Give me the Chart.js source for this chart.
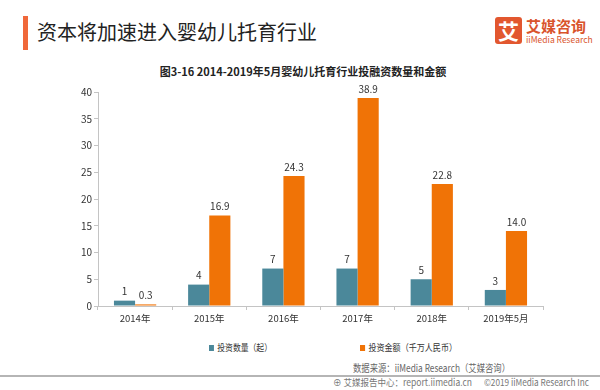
<!DOCTYPE html>
<html>
<head>
<meta charset="utf-8">
<script src="https://cdn.jsdelivr.net/npm/chart.js@4"></script>
<style>
    body { margin: 0; width: 600px; height: 390px; background: #fff; position: relative; overflow: hidden;
           font-family: "Noto Sans CJK SC", "Noto Sans", sans-serif; color: #333; }
    .abs { position: absolute; white-space: nowrap; }
    .fit { transform-origin: 0 50%; }
    #accent { left: 23px; top: 16px; width: 5px; height: 34px; background: #f0683a; }
    #headline { left: 37px; top: 18px; font-size: 20px; line-height: 28px; color: #222; }
    #logoBox { left: 495px; top: 17px; width: 27px; height: 27px; border-radius: 3px; background: #e2572f;
               color: #fff; font-size: 21px; font-weight: bold; line-height: 27px; text-align: center; }
    #logoCn { left: 526px; top: 16px; font-size: 15px; font-weight: bold; color: #d9542c; line-height: 20px; }
    #logoEn { left: 526px; top: 34px; font-size: 8.5px; color: #d9542c; line-height: 11px; }
    #chartTitle { left: 0; width: 606px; top: 63px; text-align: center; font-size: 11px; font-weight: bold; color: #222; }
    #wrap { left: 0; top: 60px; width: 600px; height: 270px; }
    .leg { top: 339px; font-size: 9.5px; line-height: 16px; color: #333; }
    .sw { display: inline-block; width: 6px; height: 6px; margin-right: 4px; vertical-align: 0px; }
    #source { left: 353px; top: 360px; font-size: 10px; color: #666; line-height: 16px; }
    #rule { left: 0; top: 375px; width: 600px; height: 2px; background: #b5b5b5; }
    #foot1 { left: 333px; top: 376px; font-size: 9.5px; color: #777; line-height: 13px; }
    #foot2 { left: 484px; top: 376px; font-size: 9.5px; color: #777; line-height: 13px; }
</style>
</head>
<body>
<div class="abs" id="accent"></div>
<div class="abs" id="headline">资本将加速进入婴幼儿托育行业</div>
<div class="abs" id="logoBox">艾</div>
<div class="abs" id="logoCn">艾媒咨询</div>
<div class="abs" id="logoEn">iiMedia Research</div>
<div class="abs" id="chartTitle">图3-16 2014-2019年5月婴幼儿托育行业投融资数量和金额</div>
<div class="abs" id="wrap"><canvas id="dealChart" width="600" height="270"></canvas></div>
<div class="abs leg fit" data-w="63" style="left:209px"><span class="sw" id="sw0"></span>投资数量（起）</div>
<div class="abs leg fit" data-w="97" style="left:360px"><span class="sw" id="sw1"></span>投资金额（千万人民币）</div>
<div class="abs fit" data-w="157" id="source">数据来源：iiMedia Research（艾媒咨询）</div>
<div class="abs" id="rule"></div>
<div class="abs fit" data-w="139" id="foot1">⊕ 艾媒报告中心：report.iimedia.cn</div>
<div class="abs fit" data-w="105" id="foot2">©2019 iiMedia Research Inc</div>

<script>
// chart data
const years = ['2014年', '2015年', '2016年', '2017年', '2018年', '2019年5月'];
const dealCount = [1, 4, 7, 7, 5, 3];
const dealAmount = [0.3, 16.9, 24.3, 38.9, 22.8, 14.0];
const yTicks = [0, 5, 10, 15, 20, 25, 30, 35, 40];

const countColor = '#4b889a';
const amountColor = '#f07306';
const axisColor = '#c4c4c4';
const fontFamily = '"Noto Sans CJK SC", "Noto Sans", sans-serif';

document.getElementById('sw0').style.background = countColor;
document.getElementById('sw1').style.background = amountColor;

// squeeze the narrow footer / legend texts to their widths
document.querySelectorAll('.fit').forEach(el => {
    const w = el.getBoundingClientRect().width;
    el.style.transform = 'scaleX(' + (Number(el.dataset.w) / w) + ')';
});

// write value labels above every bar
const valueLabels = {
    id: 'valueLabels',
    afterDatasetsDraw(chart) {
        const ctx = chart.ctx;
        ctx.save();
        ctx.font = '10px ' + fontFamily;
        ctx.fillStyle = '#333';
        ctx.textAlign = 'center';
        ctx.textBaseline = 'bottom';
        chart.data.datasets.forEach((ds, i) => {
            chart.getDatasetMeta(i).data.forEach((bar, j) => {
                const v = ds.data[j];
                const txt = i === 0 ? String(v) : v.toFixed(1);
                ctx.fillText(txt, bar.x, bar.y - 4);
            });
        });
        ctx.restore();
    }
};

new Chart(document.getElementById('dealChart'), {
    type: 'bar',
    data: {
        labels: years,
        datasets: [
            { label: '投资数量（起）', data: dealCount, backgroundColor: countColor },
            { label: '投资金额（千万人民币）', data: dealAmount, backgroundColor: amountColor }
        ]
    },
    options: {
        responsive: false,
        animation: false,
        categoryPercentage: 0.57,
        barPercentage: 1,
        layout: { padding: { top: 32, right: 57, left: 0, bottom: 0 } },
        plugins: { legend: { display: false }, tooltip: { enabled: false } },
        scales: {
            x: {
                grid: { display: true, offset: true, drawOnChartArea: false, tickLength: 4, color: axisColor },
                border: { color: axisColor },
                ticks: { font: { size: 9.5, family: fontFamily }, color: '#333', padding: 3, maxRotation: 0 },
                afterFit(scale) { scale.height = 24; }
            },
            y: {
                min: 0,
                max: 40,
                afterBuildTicks(scale) { scale.ticks = yTicks.map(v => ({ value: v })); },
                grid: { display: true, drawOnChartArea: false, tickLength: 4, color: axisColor },
                border: { color: axisColor },
                ticks: { font: { size: 10, family: fontFamily }, color: '#333', padding: 2 },
                afterFit(scale) { scale.width = 98; }
            }
        }
    },
    plugins: [valueLabels]
});
</script>
</body>
</html>
